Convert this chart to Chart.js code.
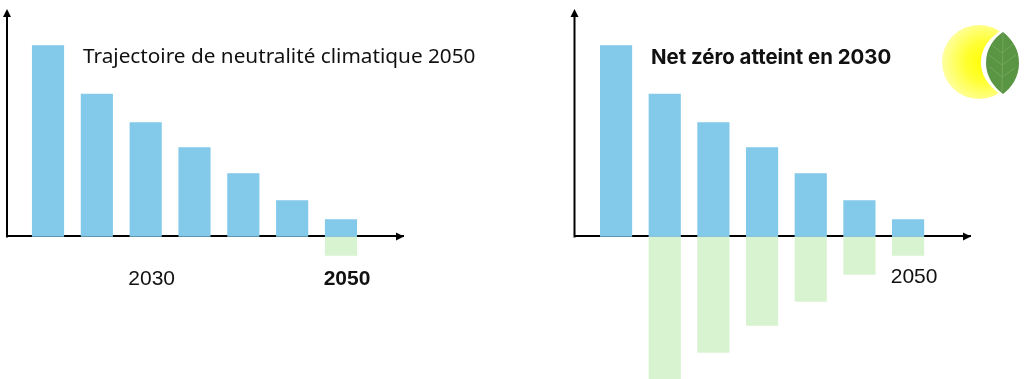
<!DOCTYPE html>
<html>
<head>
<meta charset="utf-8">
<title>Trajectoires</title>
<script src="https://cdn.jsdelivr.net/npm/chart.js@4"></script>
<style>
  html, body { margin: 0; padding: 0; background: #fff; overflow: hidden; }
  #wrap { position: relative; width: 1024px; height: 379px; }
  canvas { position: absolute; top: 0; }
  #c1 { left: 0; }
  #c2 { left: 512px; }
  #logo { position: absolute; left: 930px; top: 15px; }
</style>
</head>
<body>
<div id="wrap">
  <canvas id="c1" width="512" height="379"></canvas>
  <canvas id="c2" width="512" height="379"></canvas>
  <svg id="logo" width="94" height="95" viewBox="0 0 94 95">
    <defs>
      <radialGradient id="sun" cx="0.58" cy="0.5" r="0.6">
        <stop offset="0" stop-color="#ffff00"/>
        <stop offset="0.45" stop-color="#ffff33"/>
        <stop offset="1" stop-color="#ffffa8"/>
      </radialGradient>
    </defs>
    <circle cx="49" cy="47" r="37" fill="url(#sun)"/>
    <path d="M73 14 C61 22 50 32 51 50 C52 64 62 74 74 82 L94 82 L94 14 Z" fill="#fff"/>
    <path d="M73 17 C63 24 56 34 56 48 C56 62 64 72 73 79 C82 72 89 62 89 48 C89 35 83 25 73 17 Z" fill="#5a9543"/>
    <path d="M73 19 L72 77 M72 38 L62 30 M72 38 L83 29 M72 50 L59 40 M72 50 L86 40 M72 62 L60 52 M72 62 L85 53" stroke="#7aa863" stroke-width="0.8" fill="none"/>
  </svg>
</div>
<script>
var years = [2020, 2025, 2030, 2035, 2040, 2045, 2050];
var emissions = [191, 142.5, 114, 89, 63, 36, 17];
var absorbedLeft = [null, null, null, null, null, null, -19];
var absorbedRight = [null, -143, -116, -89, -65, -38, -19];
var ticksLeft = [2030, 2050];
var ticksRight = [2050];
var titleLeft = 'Trajectoire de neutralité climatique 2050';
var titleRight = 'Net zéro atteint en 2030';

var blue = '#82c9ea';
var green = '#d8f3cf';

function toPoints(values) {
  return values.map(function(v, i) {
    return { x: years[i], y: v };
  });
}

// y axis stops at zero, so it is stroked here with the arrow heads and the text
var extras = {
  id: 'extras',
  afterDraw: function(chart, args, opts) {
    var ctx = chart.ctx;
    var a = chart.chartArea;
    var y0 = chart.scales.y.getPixelForValue(0);
    ctx.save();
    ctx.strokeStyle = '#000';
    ctx.lineWidth = 2;
    ctx.beginPath();
    ctx.moveTo(a.left, a.top + 4);
    ctx.lineTo(a.left, y0 + 1);
    ctx.stroke();
    ctx.fillStyle = '#000';
    ctx.beginPath();
    ctx.moveTo(a.right + 1, y0);
    ctx.lineTo(a.right - 7, y0 - 4);
    ctx.lineTo(a.right - 7, y0 + 4);
    ctx.closePath();
    ctx.fill();
    ctx.beginPath();
    ctx.moveTo(a.left, a.top - 1);
    ctx.lineTo(a.left - 4, a.top + 7);
    ctx.lineTo(a.left + 4, a.top + 7);
    ctx.closePath();
    ctx.fill();
    ctx.font = opts.font;
    ctx.textBaseline = 'middle';
    ctx.fillStyle = '#111';
    ctx.fillText(opts.text, opts.x, opts.y);
    ctx.restore();
  }
};

function makeChart(id, cfg) {
  return new Chart(document.getElementById(id), {
    type: 'bar',
    data: {
      datasets: [
        { data: toPoints(emissions), backgroundColor: blue, barThickness: 31.5, grouped: false, order: 1 },
        { data: toPoints(cfg.absorbed), backgroundColor: green, barThickness: 31.5, grouped: false, order: 2 }
      ]
    },
    options: {
      responsive: false,
      animation: false,
      layout: { padding: { left: cfg.padLeft, right: cfg.padRight, top: 10, bottom: 0 } },
      plugins: {
        legend: { display: false },
        tooltip: { enabled: false },
        extras: cfg.text
      },
      scales: {
        x: {
          type: 'linear',
          offset: false,
          position: { y: 0 },
          z: 1,
          min: cfg.xMin,
          max: cfg.xMax,
          grid: { display: false },
          border: { color: '#000', width: 2 },
          afterBuildTicks: function(scale) {
            scale.ticks = cfg.ticks.map(function(v) { return { value: v }; });
          },
          afterFit: function(scale) { scale.height = 0; scale.paddingLeft = 0; scale.paddingRight = 0; },
          ticks: {
            autoSkip: false,
            maxRotation: 0,
            labelOffset: 6,
            padding: cfg.tickPad,
            color: '#111',
            font: function(c) {
              var isBold = c.tick && cfg.boldTick === c.tick.value;
              return { family: 'Liberation Sans', size: 21, weight: isBold ? 'bold' : 'normal' };
            },
            callback: function(v) { return String(v); }
          }
        },
        y: {
          min: -142.5,
          max: 226.5,
          grid: { display: false },
          border: { display: false },
          ticks: { display: false },
          afterFit: function(scale) { scale.width = 0; }
        }
      }
    },
    plugins: [extras]
  });
}

makeChart('c1', {
  absorbed: absorbedLeft,
  padLeft: 7,
  padRight: 109,
  xMin: 2015.8,
  xMax: 2056.35,
  ticks: ticksLeft,
  boldTick: 2050,
  tickPad: 22,
  text: { text: titleLeft, x: 83, y: 57, font: '20.75px "Noto Sans"' }
});

makeChart('c2', {
  absorbed: absorbedRight,
  padLeft: 62.5,
  padRight: 54,
  xMin: 2015.73,
  xMax: 2056.36,
  ticks: ticksRight,
  boldTick: null,
  tickPad: 20,
  text: { text: titleRight, x: 139, y: 58, font: 'bold 20.4px "Inter"' }
});
</script>
</body>
</html>
